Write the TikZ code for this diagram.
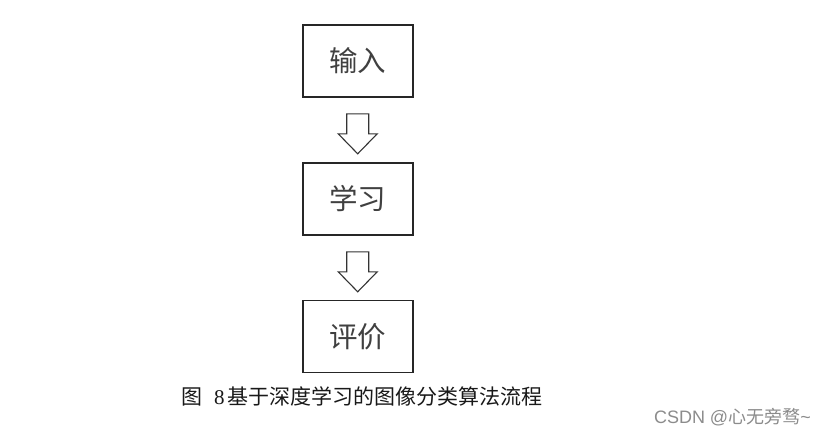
\documentclass[tikz,border=0pt]{standalone}
\usepackage{fontspec}
\setmainfont{Liberation Serif}
\newfontfamily\cjk{Noto Sans CJK SC}
\newfontfamily\wmsans{Liberation Sans}
\usetikzlibrary{calc}
\begin{document}
\begin{tikzpicture}[x=1pt,y=-1pt,
  stepbox/.style={draw=black!85, line width=1.6pt, minimum width=110pt, minimum height=72pt, inner sep=0pt,
    font=\cjk\fontsize{28.5}{32}\selectfont, text=black!75},
  blockarrow/.style={draw=black!80, line width=1.1pt, fill=white, line join=miter}]
\useasboundingbox (0,0) rectangle (825,436);
\fill[white] (0,0) rectangle (825,436);
\node[stepbox] (b1) at (357.7,61) {输入};
\node[stepbox] (b2) at (357.7,199) {学习};
\node[stepbox] (b3) at (357.7,336.5) {评价};
\coordinate (a1) at ($(b1.south)+(0,16)$);
\coordinate (a2) at ($(b2.south)+(0,16)$);
\foreach \a in {a1,a2}{
  \draw[blockarrow] (\a) ++(-11,0) -- ++(22,0) -- ++(0,20) -- ++(8.5,0) -- ++(-19.5,20) -- ++(-19.5,-20) -- ++(8.5,0) -- cycle;
}
\node[anchor=west, inner sep=0pt, font=\fontsize{21}{24}\selectfont, text=black!90] (cap) at (181,396)
  {{\cjk 图}\hspace{12pt}8\hspace{3pt}{\cjk 基于深度学习的图像分类算法流程}};
\node[anchor=east, inner sep=0pt, font=\fontsize{18}{20}\selectfont, text=black!45] (wm) at (811,417)
  {{\wmsans CSDN @}{\cjk 心无旁骛}{\wmsans\char`~}};
\end{tikzpicture}
\end{document}
